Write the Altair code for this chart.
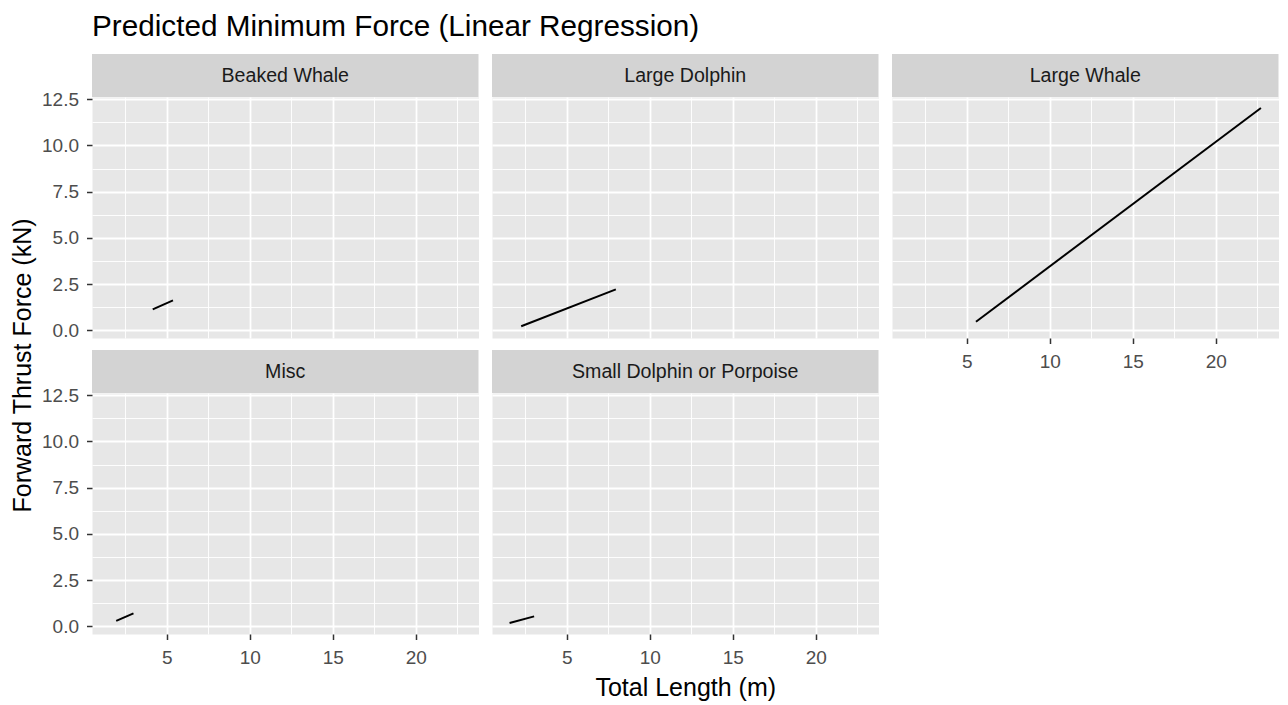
import altair as alt
import pandas as pd

# ---- data ----
categories = ["Beaked Whale", "Large Dolphin", "Large Whale", "Misc", "Small Dolphin or Porpoise"]
x_start = [4.16, 2.26, 5.56, 1.96, 1.56]
x_end = [5.38, 7.96, 22.72, 3.00, 3.04]
y_start = [1.14, 0.22, 0.47, 0.30, 0.18]
y_end = [1.62, 2.22, 12.03, 0.70, 0.54]

x_ticks = [2.5, 5, 7.5, 10, 12.5, 15, 17.5, 20, 22.5]
y_ticks = [0, 1.25, 2.5, 3.75, 5, 6.25, 7.5, 8.75, 10, 11.25, 12.5]

rows = []
for c, xa, xb, ya, yb in zip(categories, x_start, x_end, y_start, y_end):
    rows.append({"group": c, "x": xa, "y": ya})
    rows.append({"group": c, "x": xb, "y": yb})
df = pd.DataFrame(rows)

# ggplot-like 5% expansion
xmin, xmax = df["x"].min(), df["x"].max()
ymin, ymax = df["y"].min(), df["y"].max()
xd = [xmin - 0.05 * (xmax - xmin), xmax + 0.05 * (xmax - xmin)]
yd = [ymin - 0.05 * (ymax - ymin), ymax + 0.05 * (ymax - ymin)]

FONT = "Liberation Sans"
W, H, STRIP = 386.5, 241, 43
MAJOR_X = "datum.value % 5 === 0"
MAJOR_Y = "datum.value % 2.5 === 0"


def x_axis(show, title=None):
    kw = dict(
        values=x_ticks,
        grid=True,
        gridColor="white",
        gridWidth={"condition": {"test": MAJOR_X, "value": 1.8}, "value": 0.9},
        domain=False,
        labels=show,
        ticks=show,
        tickOpacity={"condition": {"test": MAJOR_X, "value": 1}, "value": 0},
        labelExpr="datum.value % 5 === 0 ? format(datum.value, 'd') : ''",
        labelPadding=8.5,
        title=title,
    )
    if title:
        kw.update(titleFontSize=25, titlePadding=8)
    return alt.Axis(**kw)


def y_axis(show, title=None):
    kw = dict(
        values=y_ticks,
        grid=True,
        gridColor="white",
        gridWidth={"condition": {"test": MAJOR_Y, "value": 1.8}, "value": 0.9},
        domain=False,
        labels=show,
        ticks=show,
        tickOpacity={"condition": {"test": MAJOR_Y, "value": 1}, "value": 0},
        labelExpr="datum.value % 2.5 === 0 ? format(datum.value, '.1f') : ''",
        labelPadding=8,
        title=title,
    )
    if title:
        kw.update(titleFontSize=25, titlePadding=6, titleY=-28)
    return alt.Axis(**kw)


show_x = {"Beaked Whale": False, "Large Dolphin": False, "Large Whale": True,
          "Misc": True, "Small Dolphin or Porpoise": True}
show_y = {"Beaked Whale": True, "Large Dolphin": False, "Large Whale": False,
          "Misc": True, "Small Dolphin or Porpoise": False}

panels = []
for cat in categories:
    xt = "Total Length (m)" if cat == "Small Dolphin or Porpoise" else None
    yt = "Forward Thrust Force (kN)" if cat == "Misc" else None
    line = (
        alt.Chart(df)
        .transform_filter(alt.datum.group == cat)
        .mark_line(color="black", strokeWidth=2)
        .encode(
            x=alt.X("x:Q", scale=alt.Scale(domain=xd, nice=False, zero=False), axis=x_axis(show_x[cat], xt)),
            y=alt.Y("y:Q", scale=alt.Scale(domain=yd, nice=False, zero=False), axis=y_axis(show_y[cat], yt)),
        )
    )
    lab = alt.Data(values=[{"label": cat}])
    strip_bg = alt.Chart(lab).mark_rect(color="#D3D3D3").encode(
        x=alt.value(0), x2=alt.value(W), y=alt.value(-STRIP), y2=alt.value(0)
    )
    strip_txt = alt.Chart(lab).mark_text(font=FONT, fontSize=19.6, color="#1A1A1A").encode(
        text="label:N", x=alt.value(W / 2), y=alt.value(-STRIP / 2)
    )
    panels.append(alt.layer(line, strip_bg, strip_txt).properties(width=W, height=H))

chart = (
    alt.concat(*panels, columns=3, spacing=alt.RowColnumber(row=55, column=13), bounds="flush")
    .properties(
        title=alt.TitleParams(
            "Predicted Minimum Force (Linear Regression)",
            anchor="start",
            frame="group",
            fontSize=29.7,
            font=FONT,
            fontWeight="normal",
            color="black",
            offset=11,
        ),
        padding={"top": 3, "left": 2, "right": 0, "bottom": 0},
    )
    .configure_view(fill="#E7E7E7", stroke="transparent")
    .configure_axis(
        labelFont=FONT,
        labelFontSize=19,
        labelColor="#4D4D4D",
        tickColor="#333333",
        tickSize=5.5,
        tickWidth=1.5,
        titleFont=FONT,
        titleColor="black",
        titleFontWeight="normal",
    )
)

chart.save("out.html", embed_options={"renderer": "svg", "actions": False})
